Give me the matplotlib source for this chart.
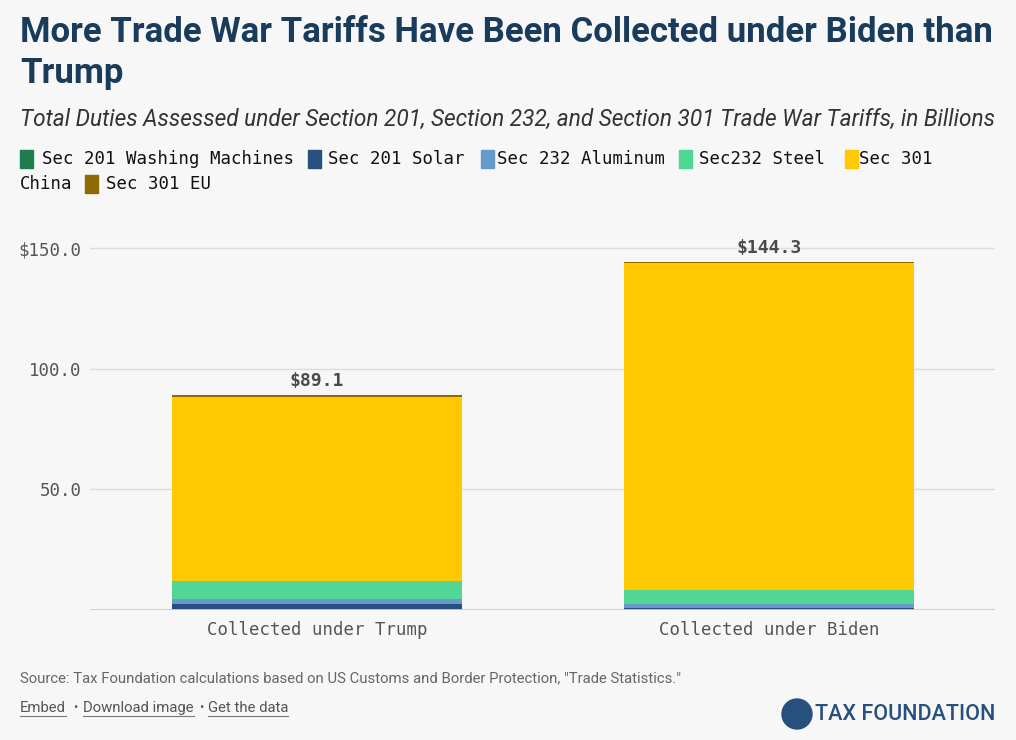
import matplotlib
matplotlib.use("Agg")
import matplotlib.pyplot as plt
from matplotlib.patches import Rectangle, Ellipse
from matplotlib.lines import Line2D

# data (billions of dollars)
periods = ["Collected under Trump", "Collected under Biden"]
series = ["Sec 201 Washing Machines", "Sec 201 Solar", "Sec 232 Aluminum",
          "Sec232 Steel", "Sec 301 China", "Sec 301 EU"]
washing = [0.4, 0.1]
solar = [2.0, 0.8]
aluminum = [2.0, 1.7]
steel = [7.5, 5.8]
china = [76.4, 135.5]
eu = [0.8, 0.4]
totals = [89.1, 144.3]
yticks = [0, 50, 100, 150]
ytick_labels = ["", "50.0", "100.0", "$150.0"]

colors = ["#1e7d4a", "#27507f", "#6699cc", "#52d693", "#ffc800", "#8e6a00"]
BG = "#f7f7f7"
MONO = "DejaVu Sans Mono"
SANS = "Roboto"

W, H = 1016, 740
fig = plt.figure(figsize=(W / 100, H / 100), dpi=100, facecolor=BG)


def fx(px):
    return px / W


def fy(py):
    return 1 - py / H


# title / subtitle
fig.text(fx(20), fy(32), "More Trade War Tariffs Have Been Collected under Biden than",
         fontsize=25, fontweight="bold", family=SANS, color="#193b5c", va="center")
fig.text(fx(20), fy(73), "Trump", fontsize=25, fontweight="bold", family=SANS,
         color="#193b5c", va="center")
fig.text(fx(20), fy(119), "Total Duties Assessed under Section 201, Section 232, and Section 301 "
         "Trade War Tariffs, in Billions", fontsize=16.25, style="italic", family=SANS,
         color="#333333", va="center")

# legend (wraps onto two lines as in the original)
leg_items = [(20, 159, 0, series[0], 42), (308, 159, 1, series[1], 328),
             (481, 159, 2, series[2], 497), (679, 159, 3, series[3], 699),
             (845, 159, 4, "Sec 301", 859), (None, 184, None, "China", 20),
             (85, 184, 5, series[5], 106)]
for sx, sy, ci, lab, tx in leg_items:
    if sx is not None:
        fig.patches.append(Rectangle((fx(sx), fy(sy + 9)), fx(13), 18 / H,
                                     transform=fig.transFigure, color=colors[ci]))
    fig.text(fx(tx), fy(sy), lab, fontsize=12.5, family=MONO, color="#111111", va="center")

# axes
ax = fig.add_axes([fx(90), 1 - 610 / H, fx(905), (610 - 230) / H])
ax.set_facecolor(BG)
x = [0, 1]
bottom = [0, 0]
for vals, col, name in zip([washing, solar, aluminum, steel, china, eu], colors, series):
    ax.bar(x, vals, width=0.64, bottom=bottom, color=col, label=name, zorder=3)
    bottom = [b + v for b, v in zip(bottom, vals)]

for xi, t in zip(x, totals):
    ax.text(xi, t + 5.8, f"${t}", ha="center", va="center", fontsize=13,
            fontweight="bold", family=MONO, color="#4a4a4a")

ax.set_xlim(-0.502, 1.5)
ax.set_ylim(0, 157.5)
ax.set_yticks(yticks)
ax.set_yticklabels(ytick_labels, family=MONO, fontsize=12.5, color="#555555")
ax.set_xticks(x)
ax.set_xticklabels(periods, family=MONO, fontsize=12.5, color="#555555")
ax.tick_params(length=0, pad=6)
ax.tick_params(axis="x", pad=8)
for s in ax.spines.values():
    s.set_visible(False)
for yv in yticks[1:]:
    ax.axhline(yv, color="#dddddd", lw=1, zorder=1)
ax.axhline(0, color="#cccccc", lw=2, zorder=4)

# footer
fig.text(fx(20), fy(678), 'Source: Tax Foundation calculations based on US Customs and Border '
         'Protection, "Trade Statistics."', fontsize=10.7, family=SANS, color="#666666",
         va="center")
links = []
links.append(fig.text(fx(20), fy(708), "Embed", fontsize=10.7, family=SANS,
                      color="#555555", va="center"))
fig.text(fx(73), fy(708), "•", fontsize=9, family=SANS, color="#555555", va="center")
links.append(fig.text(fx(83), fy(708), "Download image", fontsize=10.7, family=SANS,
                      color="#555555", va="center"))
fig.text(fx(199), fy(708), "•", fontsize=9, family=SANS, color="#555555", va="center")
links.append(fig.text(fx(208), fy(708), "Get the data", fontsize=10.7, family=SANS,
                      color="#555555", va="center"))

# logo
fig.patches.append(Ellipse((fx(797), fy(714)), 30 / W, 30 / H, transform=fig.transFigure,
                           color="#27507f"))
fig.text(fx(815), fy(715), "TAX FOUNDATION", fontsize=15.5, family=SANS, fontweight="medium",
         color="#27507f", va="center")

fig.canvas.draw()
r = fig.canvas.get_renderer()
for t in links:
    bb = t.get_window_extent(r)
    yy = (bb.y0 - 1) / H
    fig.lines.append(Line2D([bb.x0 / W, bb.x1 / W], [yy, yy], transform=fig.transFigure,
                            color="#777777", lw=0.8))

fig.savefig("out.png", dpi=100, facecolor=BG)
